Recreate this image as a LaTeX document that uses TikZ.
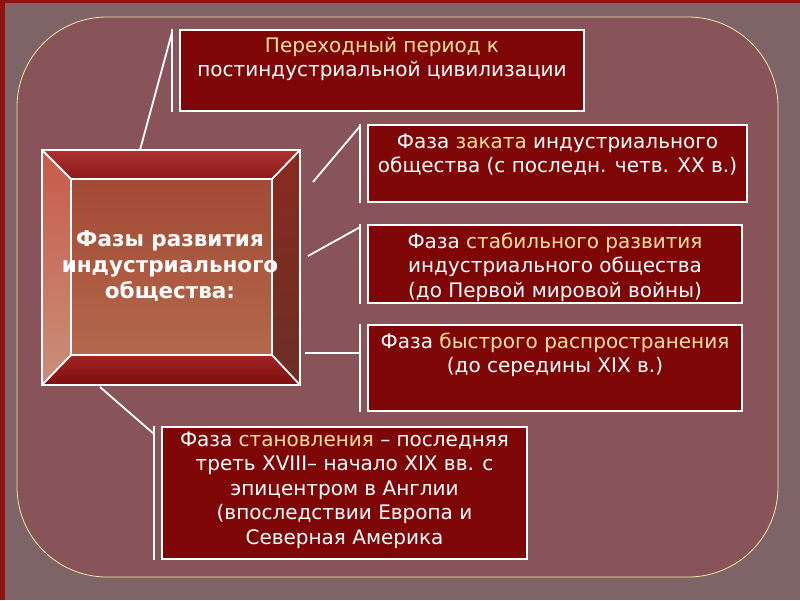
\documentclass[tikz,border=0pt]{standalone}
\usepackage{fontspec}
\setmainfont{DejaVu Sans}
\usetikzlibrary{calc}
\definecolor{bgout}{HTML}{7E6466}
\definecolor{bgin}{HTML}{88545A}
\definecolor{edgered}{HTML}{8E1414}
\definecolor{boxred}{HTML}{7E0606}
\definecolor{hl}{HTML}{FFE29A}
\definecolor{framey}{HTML}{F4E6A8}
\definecolor{topA}{HTML}{B03232}
\definecolor{topB}{HTML}{8C1A1A}
\definecolor{leftA}{HTML}{C85A4A}
\definecolor{leftB}{HTML}{C8907A}
\definecolor{rightA}{HTML}{8A2A20}
\definecolor{rightB}{HTML}{6A3026}
\definecolor{botA}{HTML}{A22424}
\definecolor{botB}{HTML}{7C0E0E}
\definecolor{inA}{HTML}{A24A36}
\definecolor{inM}{HTML}{C4845A}
\definecolor{inB}{HTML}{B4684A}
\newcommand{\hlt}[1]{\textcolor{hl}{#1}}
\begin{document}
\begin{tikzpicture}[x=1pt,y=-1pt,
  boxst/.style={draw=white, line width=1.8, fill=boxred, inner sep=0},
  txt/.style={text=white, align=center, inner sep=0, font=\fontsize{20}{24.5}\selectfont},
  bar/.style={draw=white, line width=1.8},
  conn/.style={draw=white, line width=1.8},
  bev/.style={draw=white, line width=1.8, line join=miter}]
\useasboundingbox (0,0) rectangle (800,600);
\fill[bgout] (0,0) rectangle (800,600);
\fill[edgered] (0,0) rectangle (5,600);
\fill[edgered] (0,0) rectangle (800,3);
\draw[framey, line width=0.8, fill=bgin, rounded corners=90] (17,17) rectangle (778,577);

% central bevelled box
\node[minimum width=258, minimum height=235, inner sep=0] (c) at (171,267.5) {};
\node[minimum width=201, minimum height=176, inner sep=0] (ci) at (171.5,267) {};
\shade[top color=topA, bottom color=topB]
  (c.north west) -- (c.north east) -- (ci.north east) -- (ci.north west) -- cycle;
\shade[top color=leftA, bottom color=leftB]
  (c.north west) -- (ci.north west) -- (ci.south west) -- (c.south west) -- cycle;
\shade[top color=rightA, bottom color=rightB]
  (c.north east) -- (ci.north east) -- (ci.south east) -- (c.south east) -- cycle;
\shade[top color=botA, bottom color=botB]
  (c.south west) -- (ci.south west) -- (ci.south east) -- (c.south east) -- cycle;
\shade[top color=inA, middle color=inM, bottom color=inB]
  (ci.north west) rectangle (ci.south east);
\draw[bev] (c.north west) rectangle (c.south east);
\draw[bev] (ci.north west) rectangle (ci.south east);
\draw[bev] (c.north west) -- (ci.north west);
\draw[bev] (c.north east) -- (ci.north east);
\draw[bev] (c.south west) -- (ci.south west);
\draw[bev] (c.south east) -- (ci.south east);
\node[txt, font=\fontsize{21.5}{26}\selectfont\bfseries] (ct) at (170,266) {Фазы развития\\индустриального\\общества:};

% boxes
\node[boxst, minimum width=404, minimum height=81] (b1) at (382,70.5) {};
\node[txt] (t1) at (382,59) {\hlt{Переходный период к}\\постиндустриальной цивилизации};

\node[boxst, minimum width=379, minimum height=77] (b2) at (557.5,163.5) {};
\node[txt] (t2) at (557.5,154.5) {Фаза \hlt{заката} индустриального\\общества (с последн. четв. XX в.)};

\node[boxst, minimum width=374, minimum height=78] (b3) at (555,264) {};
\node[txt] (t3) at (555,267) {Фаза \hlt{стабильного развития}\\индустриального общества\\ (до Первой мировой войны)};

\node[boxst, minimum width=374, minimum height=86] (b4) at (555,368) {};
\node[txt] (t4) at (555,355) {Фаза \hlt{быстрого распространения}\\(до середины XIX в.)};

\node[boxst, minimum width=365, minimum height=132] (b5) at (344.5,493) {};
\node[txt] (t5) at (344.5,490) {Фаза \hlt{становления} – последняя\\треть XVIII– начало XIX вв. с\\эпицентром в Англии\\(впоследствии Европа и\\Северная Америка};

% bars
\foreach \b in {b1,b2,b3,b4,b5}{
  \draw[bar] ($(\b.north west)+(-7,0)$) coordinate (\b t) -- ($(\b.south west)+(-7,0)$) coordinate (\b b);
}
% connectors
\coordinate (s1) at (140,150);
\coordinate (s2) at (313,182);
\coordinate (s3) at (308,256);
\coordinate (s4) at (305,353);
\coordinate (s5) at (100,387);
\draw[conn] (s1) -- ($(b1t)+(0,3)$);
\draw[conn] (s2) -- ($(b2t)+(0,2)$);
\draw[conn] (s3) -- ($(b3t)+(0,3)$);
\draw[conn] (s4) -- (s4 -| b4t);
\draw[conn] (s5) -- ($(b5t)+(0,8)$);
\end{tikzpicture}
\end{document}
